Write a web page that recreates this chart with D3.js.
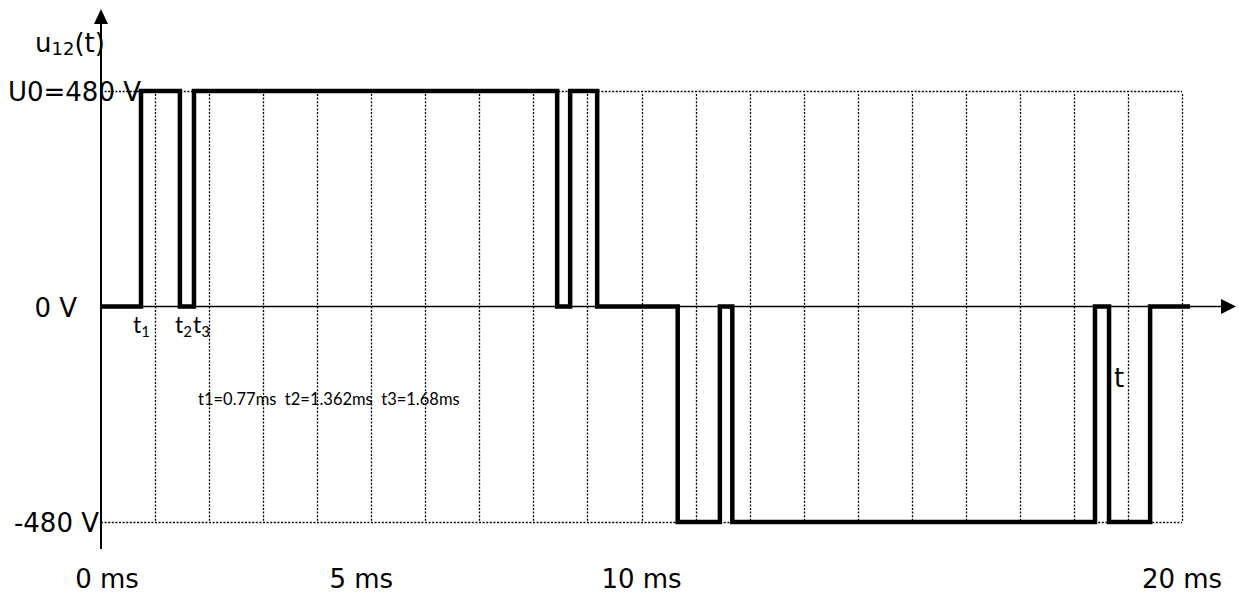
<!DOCTYPE html>
<html>
<head>
<meta charset="utf-8">
<script src="https://cdn.jsdelivr.net/npm/d3@7"></script>
<style>
  body { margin: 0; background: #fff; }
  .comic { font-family: "Comic Sans MS", "DejaVu Sans", sans-serif; }
  .calibri { font-family: Lato, "Open Sans", sans-serif; }
</style>
</head>
<body>
<svg id="chart"></svg>
<script>
// switching instants (ms) and the level that starts at each one (V)
const edgeTimes = [0, 0.74, 1.46, 1.72, 8.44, 8.68, 9.18, 10.67, 11.45, 11.68, 18.39, 18.65, 19.41, 20.15];
const edgeLevels = [0, 480, 0, 480, 0, 480, 0, -480, 0, -480, 0, -480, 0, 0];

const gridMs = d3.range(1, 21);
const tickMs = [0, 5, 10, 20];
const tickText = ["0 ms", "5 ms", "10 ms", "20 ms"];
const levelValues = [480, 0, -480];
const levelText = ["U0=480 V", "0 V", "-480 V"];
const noteText = "t1=0.77ms  t2=1.362ms  t3=1.68ms";

const width = 1239, height = 595;

const svg = d3.select("#chart")
    .attr("width", width)
    .attr("height", height);

const x = d3.scaleLinear().domain([0, 20]).range([101, 1182]);
const y = d3.scaleLinear().domain([-480, 480]).range([522, 91]);
const crisp = v => Math.round(v) + 0.5;

// dotted grid
svg.append("g")
  .selectAll("line")
  .data(gridMs)
  .enter().append("line")
    .attr("x1", d => crisp(x(d))).attr("x2", d => crisp(x(d)))
    .attr("y1", y(480) + 3).attr("y2", y(-480))
    .attr("stroke", "#000")
    .attr("stroke-width", 1.3)
    .attr("stroke-dasharray", "2,1.6");

svg.append("g")
  .selectAll("line")
  .data([480, -480])
  .enter().append("line")
    .attr("x1", x(0)).attr("x2", x(20))
    .attr("y1", d => crisp(y(d))).attr("y2", d => crisp(y(d)))
    .attr("stroke", "#000")
    .attr("stroke-width", 1.3)
    .attr("stroke-dasharray", "2,1.6");

// axes with arrow heads
svg.append("line")
    .attr("x1", x(0)).attr("x2", 1222)
    .attr("y1", y(0)).attr("y2", y(0))
    .attr("stroke", "#000").attr("stroke-width", 1.5);
svg.append("path")
    .attr("d", `M1236,${y(0)} L1221,${y(0) - 7.5} L1221,${y(0) + 7.5} Z`)
    .attr("fill", "#000");

svg.append("line")
    .attr("x1", x(0)).attr("x2", x(0))
    .attr("y1", 549).attr("y2", 22)
    .attr("stroke", "#000").attr("stroke-width", 2);
svg.append("path")
    .attr("d", `M${x(0)},9 L${x(0) - 7},24 L${x(0) + 7},24 Z`)
    .attr("fill", "#000");

// waveform
const points = edgeTimes.map((t, i) => [t, edgeLevels[i]]);
const line = d3.line()
    .x(d => x(d[0]))
    .y(d => y(d[1]))
    .curve(d3.curveStepAfter);

svg.append("path")
    .datum(points)
    .attr("d", line)
    .attr("fill", "none")
    .attr("stroke", "#000")
    .attr("stroke-width", 4.5)
    .attr("stroke-linejoin", "miter");

// time labels
svg.append("g")
  .selectAll("text")
  .data(tickMs)
  .enter().append("text")
    .attr("class", "comic")
    .attr("x", d => x(d) + (d === 0 ? 6 : d === 5 ? -10 : 0))
    .attr("y", 588)
    .attr("text-anchor", "middle")
    .style("font-size", "26px")
    .text((d, i) => tickText[i]);

// voltage labels
const levelRight = [141, 77, 99];
svg.append("g")
  .selectAll("text")
  .data(levelValues)
  .enter().append("text")
    .attr("class", "comic")
    .attr("x", (d, i) => levelRight[i])
    .attr("y", d => y(d) + 10)
    .attr("text-anchor", "end")
    .style("font-size", "26px")
    .text((d, i) => levelText[i]);

// y axis name u12(t)
const yName = svg.append("text")
    .attr("class", "comic")
    .attr("x", 35).attr("y", 52)
    .style("font-size", "26px");
yName.append("tspan").text("u");
yName.append("tspan").attr("dy", 3).style("font-size", "18px").text("12");
yName.append("tspan").attr("dy", -3).text("(t)");

// switching instant markers
const markerNames = ["1", "2", "3"];
const markerX = [133, 175, 193];
markerNames.forEach((n, i) => {
  const m = svg.append("text")
      .attr("class", "calibri")
      .attr("x", markerX[i]).attr("y", 333)
      .style("font-size", "23px");
  m.append("tspan").text("t");
  m.append("tspan").attr("dy", 4).style("font-size", "15px").text(n);
});

svg.append("text")
    .attr("class", "calibri")
    .attr("x", 198).attr("y", 405)
    .style("font-size", "16.5px")
    .style("white-space", "pre")
    .text(noteText);

svg.append("text")
    .attr("class", "comic")
    .attr("x", 1119).attr("y", 387)
    .attr("text-anchor", "middle")
    .style("font-size", "26px")
    .text("t");
</script>
</body>
</html>
